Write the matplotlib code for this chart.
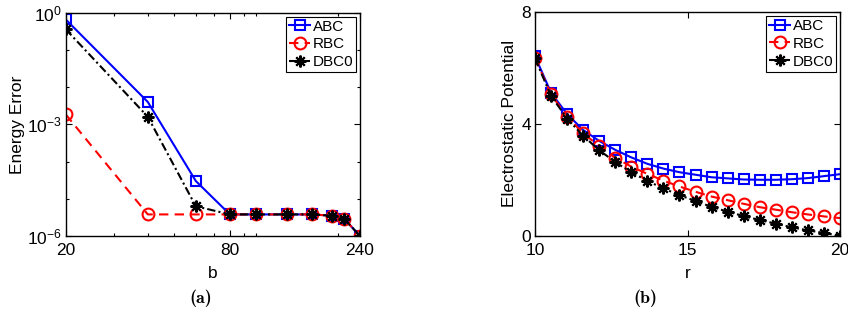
import numpy as np
import matplotlib.pyplot as plt
from matplotlib.ticker import FixedLocator, NullFormatter

plt.rcParams['font.family'] = ['Liberation Sans', 'DejaVu Sans']
plt.rcParams['mathtext.fontset'] = 'custom'
plt.rcParams['mathtext.rm'] = 'Liberation Sans'
plt.rcParams['mathtext.it'] = 'Liberation Sans'
plt.rcParams['mathtext.bf'] = 'Liberation Sans:bold'

# (a) energy error vs b
b = [20, 40, 60, 80, 100, 130, 160, 190, 210, 240]
err_abc = [0.66, 4.0e-3, 3.0e-5, 3.8e-6, 3.8e-6, 3.8e-6, 3.8e-6, 3.5e-6, 2.9e-6, 1.0e-6]
err_rbc = [1.85e-3, 3.8e-6, 3.8e-6, 3.8e-6, 3.8e-6, 3.8e-6, 3.8e-6, 3.5e-6, 2.9e-6, 1.0e-6]
err_dbc = [0.36, 1.6e-3, 6.3e-6, 3.8e-6, 3.8e-6, 3.8e-6, 3.8e-6, 3.5e-6, 2.9e-6, 1.0e-6]

# (b) electrostatic potential vs r
r = np.linspace(10, 20, 20)
pot_abc = [6.42, 5.11, 4.35, 3.78, 3.39, 3.07, 2.80, 2.57, 2.40, 2.27,
           2.18, 2.09, 2.05, 2.01, 2.00, 2.00, 2.02, 2.06, 2.13, 2.20]
pot_rbc = [6.37, 5.05, 4.26, 3.66, 3.21, 2.78, 2.47, 2.21, 1.97, 1.76,
           1.57, 1.40, 1.27, 1.14, 1.02, 0.93, 0.84, 0.76, 0.69, 0.63]
pot_dbc = [6.34, 5.00, 4.19, 3.57, 3.06, 2.63, 2.27, 1.96, 1.69, 1.45,
           1.24, 1.03, 0.86, 0.70, 0.56, 0.43, 0.30, 0.19, 0.10, 0.00]

W, H = 848, 322
fig = plt.figure(figsize=(W / 100, H / 100), dpi=100)
ax1 = fig.add_axes([65.7 / W, 1 - 236 / H, 294.3 / W, 223.3 / H])
ax2 = fig.add_axes([535 / W, 1 - 235.7 / H, 305 / W, 223.7 / H])

star = (8, 2, 0)
styles = [
    dict(color='#0000ff', ls='-', marker='s', ms=7, mfc='none', mew=1.5, lw=1.5, label='ABC'),
    dict(color='#ff0000', ls=(0, (4.5, 3)), marker='o', ms=8.5, mfc='none', mew=1.5, lw=1.5, label='RBC'),
    dict(color='black', ls=(0, (4, 1.5, 1, 1.5)), marker=star, ms=8.5, mew=1.5, lw=1.5, label='DBC0'),
]

for ys, st in zip([err_abc, err_rbc, err_dbc], styles):
    ax1.plot(b, ys, **st)
for ys, st in zip([pot_abc, pot_rbc, pot_dbc], styles):
    ax2.plot(r, ys, **st)

ax1.set_xscale('log')
ax1.set_yscale('log')
ax1.set_xlim(20, 240)
ax1.set_ylim(1e-6, 1)
ax1.xaxis.set_major_locator(FixedLocator([20, 80, 240]))
ax1.xaxis.set_minor_locator(FixedLocator([30, 40, 50, 60, 70, 90, 100, 200]))
ax1.xaxis.set_minor_formatter(NullFormatter())
ax1.set_xticklabels(['20', '80', '240'])
ax1.yaxis.set_major_locator(FixedLocator([1e-6, 1e-3, 1]))
ax1.yaxis.set_minor_locator(FixedLocator([1e-5, 1e-4, 1e-2, 1e-1]))
ax1.yaxis.set_minor_formatter(NullFormatter())
ax1.set_yticklabels([r'$10^{-6}$', r'$10^{-3}$', r'$10^{0}$'])
ax1.set_xlabel('b', fontsize=12.5, labelpad=6)
ax1.set_ylabel('Energy Error', fontsize=12.5, labelpad=1)

ax2.set_xlim(10, 20)
ax2.set_ylim(0, 8)
ax2.set_xticks([10, 15, 20])
ax2.set_yticks([0, 4, 8])
ax2.set_xlabel('r', fontsize=12.5, labelpad=6)
ax2.set_ylabel('Electrostatic Potential', fontsize=12.5, labelpad=3)

for ax in (ax1, ax2):
    ax.tick_params(which='both', direction='in', top=True, right=True,
                   labelsize=12.5, width=0.8)
    ax.tick_params(axis='x', pad=5)
    ax.tick_params(axis='y', pad=3)
    ax.tick_params(which='major', length=4)
    ax.tick_params(which='minor', length=2.5)
    for sp in ax.spines.values():
        sp.set_linewidth(1.0)
    leg = ax.legend(loc='upper right', fontsize=11, handlelength=1.4,
                    handletextpad=0.15, borderpad=0.2, labelspacing=0.25,
                    borderaxespad=0.25, fancybox=False, framealpha=1)
    leg.get_frame().set_edgecolor('black')
    leg.get_frame().set_linewidth(0.8)

fig.text(201 / W, 1 - 298 / H, '(a)', ha='center', va='center', fontsize=13,
         fontfamily='cmb10')
fig.text(645 / W, 1 - 298 / H, '(b)', ha='center', va='center', fontsize=13,
         fontfamily='cmb10')

fig.savefig('out.png', dpi=100)
